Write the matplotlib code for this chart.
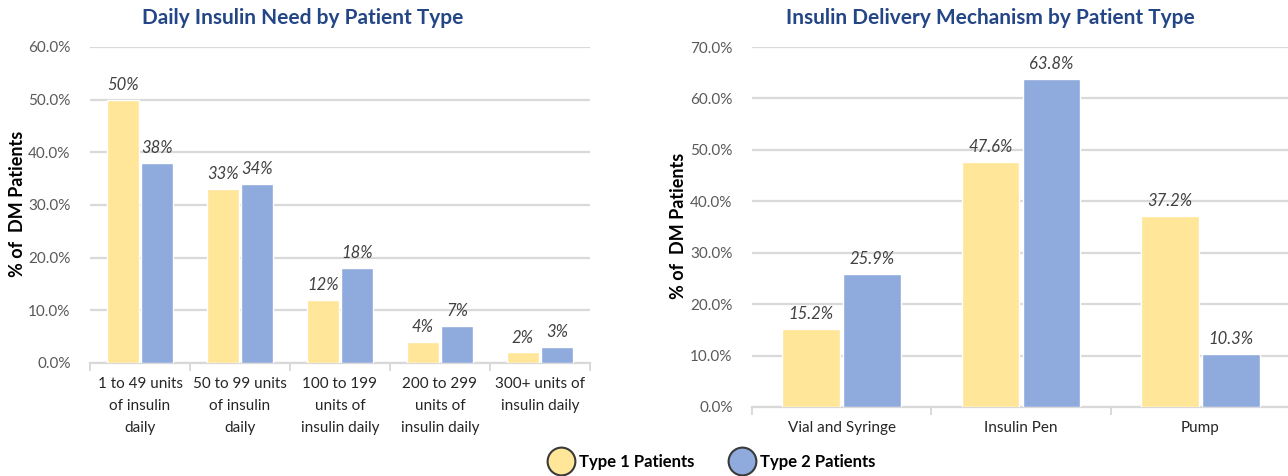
import matplotlib
matplotlib.use("Agg")
import matplotlib.pyplot as plt
from matplotlib.lines import Line2D
import numpy as np

plt.rcParams['font.family'] = ['Lato', 'DejaVu Sans']

# Daily insulin need (percent of DM patients)
need_categories = ["1 to 49 units\nof insulin\ndaily",
                   "50 to 99 units\nof insulin\ndaily",
                   "100 to 199\nunits of\ninsulin daily",
                   "200 to 299\nunits of\ninsulin daily",
                   "300+ units of\ninsulin daily"]
need_type1 = [50, 33, 12, 4, 2]
need_type2 = [38, 34, 18, 7, 3]

# Insulin delivery mechanism (percent of DM patients)
delivery_categories = ["Vial and Syringe", "Insulin Pen", "Pump"]
delivery_type1 = [15.2, 47.6, 37.2]
delivery_type2 = [25.9, 63.8, 10.3]

series_names = ["Type 1 Patients", "Type 2 Patients"]

YELLOW = "#FFE699"
BLUE = "#8FAADC"
GRID = "#D9D9D9"
TICK_GRAY = "#595959"
TITLE_BLUE = "#244687"
LABEL_DARK = "#404040"

W, H = 1288, 476
fig = plt.figure(figsize=(W / 100, H / 100), dpi=100)


def px_axes(x0, y0, x1, y1):
    return fig.add_axes([x0 / W, 1 - y1 / H, (x1 - x0) / W, (y1 - y0) / H])


def draw_panel(ax, cats, s1, s2, ymax, fmt):
    n = len(cats)
    x = np.arange(n)
    bw = 0.32
    off = bw / 2 + 0.01
    ax.bar(x - off, s1, bw, color=YELLOW, edgecolor="white", linewidth=1.0, zorder=3)
    ax.bar(x + off, s2, bw, color=BLUE, edgecolor="white", linewidth=1.0, zorder=3)
    for xs, vals in ((x - off, s1), (x + off, s2)):
        for xi, v in zip(xs, vals):
            ax.annotate(fmt(v), (xi, v), xytext=(0, 5), textcoords="offset points",
                        ha="center", va="bottom", fontsize=12, style="italic", color=LABEL_DARK)
    ax.set_xlim(-0.5, n - 0.5)
    ax.set_ylim(0, ymax)
    ticks = np.arange(0, ymax + 0.1, 10)
    ax.set_yticks(ticks)
    ax.set_yticklabels([f"{t:.1f}%" for t in ticks], color=TICK_GRAY, fontsize=11)
    ax.yaxis.grid(True, color=GRID, linewidth=1.6, zorder=0)
    ax.set_axisbelow(True)
    for s in ("top", "right", "left"):
        ax.spines[s].set_visible(False)
    ax.spines["bottom"].set_color(GRID)
    ax.spines["bottom"].set_linewidth(1.6)
    ax.tick_params(axis="y", length=0, pad=14)
    # category boundaries carry the tick marks; labels sit at centres
    ax.set_xticks(np.arange(-0.5, n, 1.0))
    ax.set_xticklabels([])
    ax.tick_params(axis="x", which="major", length=6, color=GRID, width=1.4)
    ax.set_xticks(x, minor=True)
    ax.set_xticklabels(cats, minor=True, fontsize=11, color="#262626", linespacing=1.75)
    ax.tick_params(axis="x", which="minor", length=0, pad=10)


ax1 = px_axes(90, 47, 590, 363)
draw_panel(ax1, need_categories, need_type1, need_type2, 60, lambda v: f"{v:.0f}%")

ax2 = px_axes(752, 47, 1290, 407)
draw_panel(ax2, delivery_categories, delivery_type1, delivery_type2, 70, lambda v: f"{v:.1f}%")

fig.text(303 / W, 1 - 18 / H, "Daily Insulin Need by Patient Type", ha="center", va="center",
         fontsize=15, fontweight="bold", color=TITLE_BLUE)
fig.text(990 / W, 1 - 18 / H, "Insulin Delivery Mechanism by Patient Type", ha="center", va="center",
         fontsize=15, fontweight="bold", color=TITLE_BLUE)

fig.text(18 / W, 1 - 204 / H, "% of  DM Patients", rotation=90, ha="center", va="center",
         fontsize=13, fontweight="bold", color="black")
fig.text(679 / W, 1 - 226 / H, "% of  DM Patients", rotation=90, ha="center", va="center",
         fontsize=13, fontweight="bold", color="black")

handles = [Line2D([], [], linestyle="none", marker="o", markersize=20, markerfacecolor=c,
                  markeredgecolor="#3A3A3A", markeredgewidth=1.5) for c in (YELLOW, BLUE)]
fig.legend(handles, series_names, loc="center", bbox_to_anchor=(714 / W, 1 - 462 / H), ncol=2,
           frameon=False, handlelength=1.0, handletextpad=0.55, columnspacing=2.4,
           prop={"weight": "bold", "size": 12})

fig.savefig("out.png", dpi=100, facecolor="white")
